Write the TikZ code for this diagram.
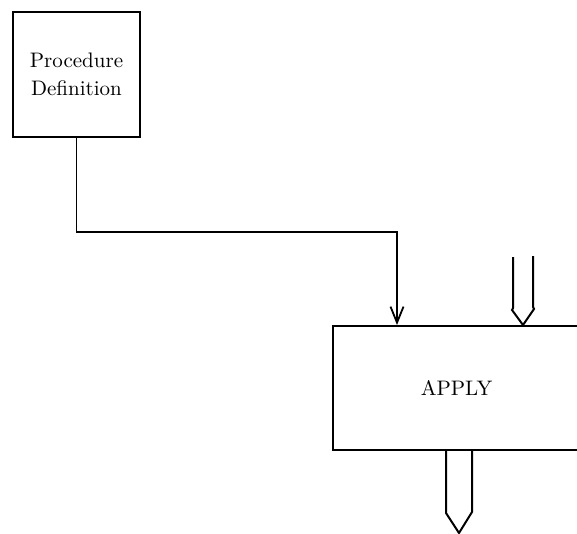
\documentclass[tikz,border=0pt]{standalone}
\usepackage{tikz}
\usetikzlibrary{arrows.meta,positioning,calc}

\begin{document}
\begin{tikzpicture}[x=0.5pt,y=-0.5pt,
  font=\fontsize{10.5}{13}\selectfont,
  box/.style={draw,line width=1pt,inner sep=0pt,align=center},
  link/.style={-{Straight Barb[length=8pt,width=6.5pt]},line width=0.9pt},
  hollow/.style={line width=1pt,line join=miter}]

\useasboundingbox (0,0) rectangle (577,534);
\node[box,minimum width=63.5pt,minimum height=62.5pt] (procdef) at (76.5,74.5)
  {Procedure\\[1pt]Definition};
\node[box,minimum width=123.5pt,minimum height=62pt] (apply) at (456.5,388) {APPLY};

% procedure feeds apply
\coordinate (bend) at (397,232);
\draw[link] (procdef.south) |- (bend) -- (bend |- apply.north);

% argument stream in, result stream out
\coordinate (argtop) at (523,257);
\draw[hollow] (argtop) ++(-10,0) -- ++(0,51) -- ++(-1,2) -- (argtop |- apply.north) -- ++(11,-16) -- ++(-1,-2) -- ++(0,-51);
\coordinate (resbot) at (459,533);
\draw[hollow] (apply.south -| resbot) ++(-13,0) -- ++(0,62) -- (resbot) -- ++(13,-21) -- ++(0,-62);

\end{tikzpicture}
\end{document}
